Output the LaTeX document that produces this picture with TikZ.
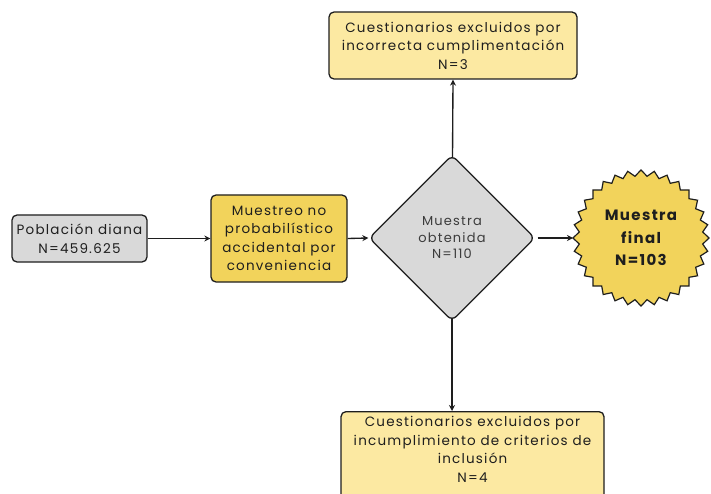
\documentclass[tikz,border=0pt]{standalone}
\usepackage{fontspec}
\setmainfont{Poppins}[LetterSpace=9]
\usepackage{tikz}
\usetikzlibrary{positioning}
\usetikzlibrary{shapes.geometric}
\usetikzlibrary{arrows.meta}
\usetikzlibrary{backgrounds}
\definecolor{boxgrey}{HTML}{D9D9D9}
\definecolor{boxgold}{HTML}{F2D35B}
\definecolor{boxcream}{HTML}{FCE9A2}
\definecolor{edgeblack}{HTML}{1E1E1E}
\definecolor{textgrey}{HTML}{3C3C3C}

\begin{document}
\begin{tikzpicture}[
x=1pt, y=-1pt,
font=\fontsize{13.5}{18.5}\selectfont,
greybox/.style={rectangle, rounded corners=5pt, draw=edgeblack, fill=boxgrey, line width=1.3pt, align=center, text=edgeblack, inner sep=0pt},
goldbox/.style={rectangle, rounded corners=5pt, draw=edgeblack, fill=boxgold, line width=1.3pt, align=center, text=edgeblack, inner sep=0pt},
creambox/.style={rectangle, rounded corners=5pt, draw=edgeblack, fill=boxcream, line width=1.3pt, align=center, text=edgeblack, inner sep=0pt},
decisionnode/.style={diamond, aspect=1, rounded corners=6pt, draw=edgeblack, fill=boxgrey, line width=1.3pt, align=center, text=textgrey, inner sep=0pt, minimum width=166pt, minimum height=166pt, font=\fontsize{13}{16.5}\selectfont},
arrowline/.style={-{Stealth[length=6pt, width=6pt]}, line width=1.35pt, draw=edgeblack},
]
\clip (0,0) rectangle (711,494);
%Nodes
\node[greybox, minimum width=135pt, minimum height=47pt]		(pop)		at (79.5,238.5)		{Población diana\\N=459.625};
\node[goldbox, minimum width=136pt, minimum height=87pt]		(muestreo)	at (279,238.5)		{Muestreo no\\probabilístico\\accidental por\\conveniencia};
\node[decisionnode]		(obt)		at (452,238)		{Muestra\\obtenida\\N=110};
\node[creambox, minimum width=248pt, minimum height=67pt]		(excl1)		at (453,45.5)		{Cuestionarios excluidos por\\incorrecta cumplimentación\\N=3};
\node[creambox, minimum width=263pt, minimum height=100pt, anchor=north]	(excl2)	at (472.5,411)	{};
\node[align=center, anchor=north, text=edgeblack]		(excl2text)	at (472.5,413)	{Cuestionarios excluidos por\\incumplimiento de criterios de\\inclusión\\N=4};
\coordinate (final) at (641,238);

%Starburst
\draw[draw=edgeblack, fill=boxgold, line width=1.2pt] ([shift={(0:68pt)}]final)
  \foreach \k in {0,...,31} { -- ([shift={(\k*11.25:68pt)}]final) -- ([shift={(\k*11.25+5.625:62pt)}]final) } -- cycle;
\node[align=center, font=\fontsize{15}{22.5}\selectfont\bfseries, text=edgeblack] (finaltext) at (final) {Muestra\\final\\N=103};

%Lines
\begin{scope}[on background layer]
\draw[arrowline] (pop.east) -- (muestreo.west);
\draw[arrowline] (muestreo.east) -- (obt.west);
\draw[arrowline] (obt.center) -- (excl1.south);
\draw[arrowline] (obt.center) -- (obt.center |- excl2.north);
\end{scope}
\draw[arrowline, shorten <=2pt] (obt.east) -- ([xshift=-68pt]final);
\end{tikzpicture}
\end{document}
